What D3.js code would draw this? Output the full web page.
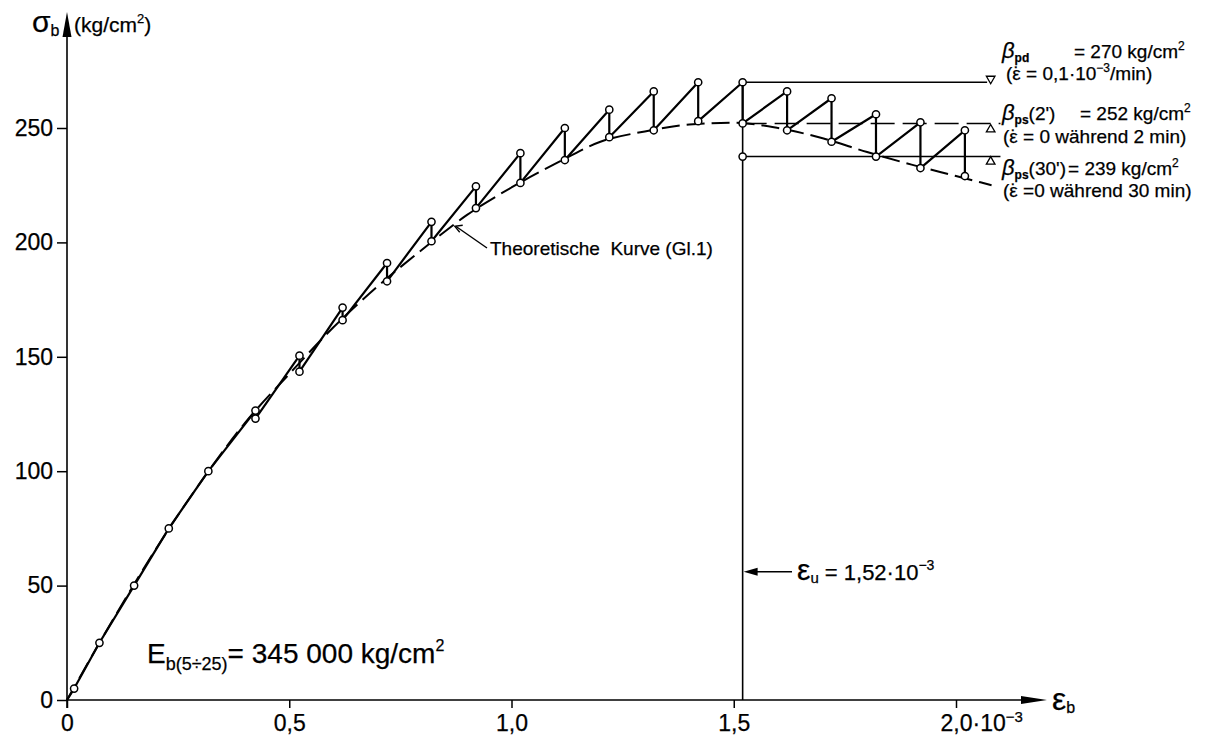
<!DOCTYPE html>
<html>
<head>
<meta charset="utf-8">
<script src="https://cdn.jsdelivr.net/npm/d3@7"></script>
<style>body{margin:0;background:#fff} text{stroke:#000;stroke-width:0.25px}</style>
</head>
<body>
<div id="chart"></div>
<script>
// loading branch before the first relaxation step (strain 1e-3, stress kg/cm2)
var loadStrain=[0,0.016,0.073,0.151,0.229,0.318]
var loadStress=[0,5,25,50,75,100]
// load steps: peak before relaxation, value after relaxation
var cycStrain=[0.424,0.523,0.62,0.72,0.82,0.92,1.02,1.12,1.22,1.32,1.42,1.52,1.62,1.72,1.82,1.92,2.02]
var cycPeak=[126.5,150.5,171.5,191,209,224.5,239,250,258,266,270,270,266,263,256,252.5,249]
var cycRelax=[123,143.5,166,183,200.5,215,226,236,246,249,253,252,249,244,237.5,232.5,229]
// theoretische Kurve (Gl.1)
var theoStrain=[0,0.1,0.2,0.3,0.4,0.5,0.6,0.7,0.8,0.9,1.0,1.1,1.2,1.3,1.4,1.5,1.6,1.7,1.8,1.9,2.0,2.08]
var theoStress=[0,34,66,95,121,142.5,163,181,197,212,224,234.5,244,248.5,251.5,252.3,250,245.5,239.5,234,229,225]
var yTicks=[0,50,100,150,200,250]
var xTicks=[0,0.5,1.0,1.5,2.0]
var xTickLabels=["0","0,5","1,0","1,5","2,0"]
var epsU=1.52
var ps30Point=237.5
var refLevels=[270,252,237.5]

chart()
function chart(){
var W=1208,H=737
var font="'Liberation Sans', Arial, sans-serif"
var svg=d3.select("#chart").append("svg")
	.attr("width",W)
	.attr("height",H)
	.attr("font-family",font)

var x=d3.scaleLinear().domain([0,2]).range([67,956])
var y=d3.scaleLinear().domain([0,250]).range([700,128])

// axes
var gx=svg.append("g").attr("transform","translate(0,"+y(0)+")")
	.call(d3.axisBottom(x).tickValues(xTicks).tickSize(8).tickPadding(7)
	.tickFormat(function(d,i){return xTickLabels[i]}))
gx.select(".domain").remove()
gx.selectAll("line").attr("stroke","#000").attr("stroke-width",1.5)
gx.selectAll("text").attr("font-family",font).attr("font-size",23).attr("fill","#000")
var last=gx.selectAll(".tick text").filter(function(d){return d===2})
var w=last.node().getComputedTextLength()
last.attr("text-anchor","start").attr("x",-w/2)
last.append("tspan").text("·10")
last.append("tspan").attr("font-size",15).attr("dy","-0.65em").text("−3")

var gy=svg.append("g").attr("transform","translate("+x(0)+",0)")
	.call(d3.axisLeft(y).tickValues(yTicks).tickSize(10).tickPadding(4))
gy.select(".domain").remove()
gy.selectAll("line").attr("stroke","#000").attr("stroke-width",1.5)
gy.selectAll("text").attr("font-family",font).attr("font-size",23).attr("fill","#000")

svg.append("line").attr("x1",x(0)).attr("y1",y(0)+8).attr("x2",x(0)).attr("y2",36)
	.attr("stroke","#000").attr("stroke-width",1.6)
svg.append("path").attr("d","M"+x(0)+",12L"+(x(0)-4.5)+",37L"+(x(0)+4.5)+",37Z").attr("fill","#000")
svg.append("line").attr("x1",x(0)).attr("y1",y(0)).attr("x2",1022).attr("y2",y(0))
	.attr("stroke","#000").attr("stroke-width",1.6)
svg.append("path").attr("d","M1047,"+y(0)+"L1021,"+(y(0)-4)+"L1021,"+(y(0)+4)+"Z").attr("fill","#000")

// axis titles
var ty=svg.append("text").attr("x",32).attr("y",32).attr("font-size",30).text("σ")
ty.append("tspan").attr("font-size",16).attr("dy",4).text("b")
var tk=svg.append("text").attr("x",74).attr("y",32).attr("font-size",21).text("(kg/cm")
tk.append("tspan").attr("font-size",13).attr("dy",-9).text("2")
tk.append("tspan").attr("dy",9).text(")")
var tx=svg.append("text").attr("x",1052).attr("y",710).attr("font-size",32).text("ε")
tx.append("tspan").attr("font-size",16).attr("dy",3).text("b")

// theoretical curve
var theo=theoStrain.map(function(d,i){return [d,theoStress[i]]})
var line=d3.line().x(function(d){return x(d[0])}).y(function(d){return y(d[1])})
svg.append("path").datum(theo).attr("d",d3.line().curve(d3.curveMonotoneX)
	.x(function(d){return x(d[0])}).y(function(d){return y(d[1])}))
	.attr("fill","none").attr("stroke","#000").attr("stroke-width",2)
	.attr("stroke-dasharray","18,7")

// reference levels
svg.append("line").attr("x1",x(epsU)).attr("x2",x(2.07)).attr("y1",y(refLevels[0])).attr("y2",y(refLevels[0]))
	.attr("stroke","#000").attr("stroke-width",1.5)
svg.append("line").attr("x1",x(epsU)).attr("x2",x(2.1)).attr("y1",y(refLevels[1])).attr("y2",y(refLevels[1]))
	.attr("stroke","#000").attr("stroke-width",1.5).attr("stroke-dasharray","24,8")
svg.append("line").attr("x1",x(epsU)).attr("x2",x(2.1)).attr("y1",y(refLevels[2])).attr("y2",y(refLevels[2]))
	.attr("stroke","#000").attr("stroke-width",1.5)
var tri=d3.symbol().type(d3.symbolTriangle).size(32)
var mx=x(2.078)
svg.append("path").attr("d",tri()).attr("transform","translate("+mx+","+(y(refLevels[0])-3.5)+") rotate(180)")
	.attr("fill","#fff").attr("stroke","#000").attr("stroke-width",1.3)
svg.append("path").attr("d",tri()).attr("transform","translate("+mx+","+(y(refLevels[1])+6)+")")
	.attr("fill","#fff").attr("stroke","#000").attr("stroke-width",1.3)
svg.append("path").attr("d",tri()).attr("transform","translate("+mx+","+(y(refLevels[2])+5)+")")
	.attr("fill","#fff").attr("stroke","#000").attr("stroke-width",1.3)

// eps_u vertical
svg.append("line").attr("x1",x(epsU)).attr("x2",x(epsU)).attr("y1",y(0)).attr("y2",y(270))
	.attr("stroke","#000").attr("stroke-width",1.6)

// measured path
var pts=loadStrain.map(function(d,i){return [d,loadStress[i]]})
cycStrain.forEach(function(d,i){pts.push([d,cycPeak[i]]);pts.push([d,cycRelax[i]])})
svg.append("path").datum(pts).attr("d",line)
	.attr("fill","none").attr("stroke","#000").attr("stroke-width",2.2).attr("stroke-linejoin","round")

var circ=pts.slice(1)
circ.push([epsU,ps30Point])
svg.selectAll(".pt").data(circ).enter().append("circle")
	.attr("cx",function(d){return x(d[0])})
	.attr("cy",function(d){return y(d[1])})
	.attr("r",3.6)
	.attr("fill","#fff").attr("stroke","#000").attr("stroke-width",1.5)

// Theoretische Kurve label
var ax=x(0.87),ay=y(207.5)
svg.append("line").attr("x1",ax+2).attr("y1",ay+1).attr("x2",487).attr("y2",248)
	.attr("stroke","#000").attr("stroke-width",1.4)
svg.append("path").attr("d","M"+(ax+9)+","+(ay)+"L"+(ax+1)+","+(ay+1)+"L"+(ax+6)+","+(ay+7))
	.attr("fill","none").attr("stroke","#000").attr("stroke-width",1.3)
svg.append("text").attr("x",490).attr("y",255).attr("font-size",19)
	.style("white-space","pre").text("Theoretische  Kurve (Gl.1)")

// eps_u label
var uy=y(56)
svg.append("line").attr("x1",x(epsU)+12).attr("x2",792).attr("y1",uy).attr("y2",uy)
	.attr("stroke","#000").attr("stroke-width",1.5)
svg.append("path").attr("d","M"+(x(epsU)+1)+","+uy+"L"+(x(epsU)+15)+","+(uy-4)+"L"+(x(epsU)+15)+","+(uy+4)+"Z").attr("fill","#000")
var tu=svg.append("text").attr("x",797).attr("y",uy+8).attr("font-size",30).text("ε")
tu.append("tspan").attr("font-size",15).attr("dy",3).text("u")
tu.append("tspan").attr("font-size",22).attr("dy",-3).text(" = 1,52·10")
tu.append("tspan").attr("font-size",14).attr("dy",-10).text("−3")

// E modulus
var te=svg.append("text").attr("x",147).attr("y",663).attr("font-size",28).text("E")
te.append("tspan").attr("font-size",18).attr("dy",7).text("b(5÷25)")
te.append("tspan").attr("dy",-7).text("= 345 000 kg/cm")
te.append("tspan").attr("font-size",16).attr("dy",-12).text("2")

// right annotations
function beta(yb,sub,rest,eqx,val){
	var t=svg.append("text").attr("x",1002).attr("y",yb).attr("font-size",22)
	t.append("tspan").attr("font-style","italic").text("β")
	t.append("tspan").attr("font-size",12).attr("font-weight","bold").attr("dy",4).text(sub)
	t.append("tspan").attr("font-size",19).attr("dy",-4).text(rest)
	var end=1002+t.node().getComputedTextLength()
	var t2=svg.append("text").attr("x",Math.max(eqx,end+2)).attr("y",yb).attr("font-size",19).text("= "+val+" kg/cm")
	t2.append("tspan").attr("font-size",12).attr("dy",-8).text("2")
}
function epsDot(t){
	t.append("tspan").text("ε")
	t.append("tspan").attr("dx",-7.4).text("˙")
}
beta(58,"pd","",1074,"270")
beta(120,"ps","(2')",1080,"252")
beta(175,"ps","(30')",1060,"239")
var l2=svg.append("text").attr("x",1006).attr("y",80).attr("font-size",19).text("(")
epsDot(l2)
l2.append("tspan").attr("dx",1.1).text(" = 0,1·10")
l2.append("tspan").attr("font-size",12).attr("dy",-8).text("−3")
l2.append("tspan").attr("dy",8).text("/min)")
var l4=svg.append("text").attr("x",1003).attr("y",143).attr("font-size",19).text("(")
epsDot(l4)
l4.append("tspan").attr("dx",1.1).text(" = 0 während 2 min)")
var l6=svg.append("text").attr("x",1003).attr("y",197).attr("font-size",19).text("(")
epsDot(l6)
l6.append("tspan").attr("dx",1.1).text(" =0 während 30 min)")
}
</script>
</body>
</html>
